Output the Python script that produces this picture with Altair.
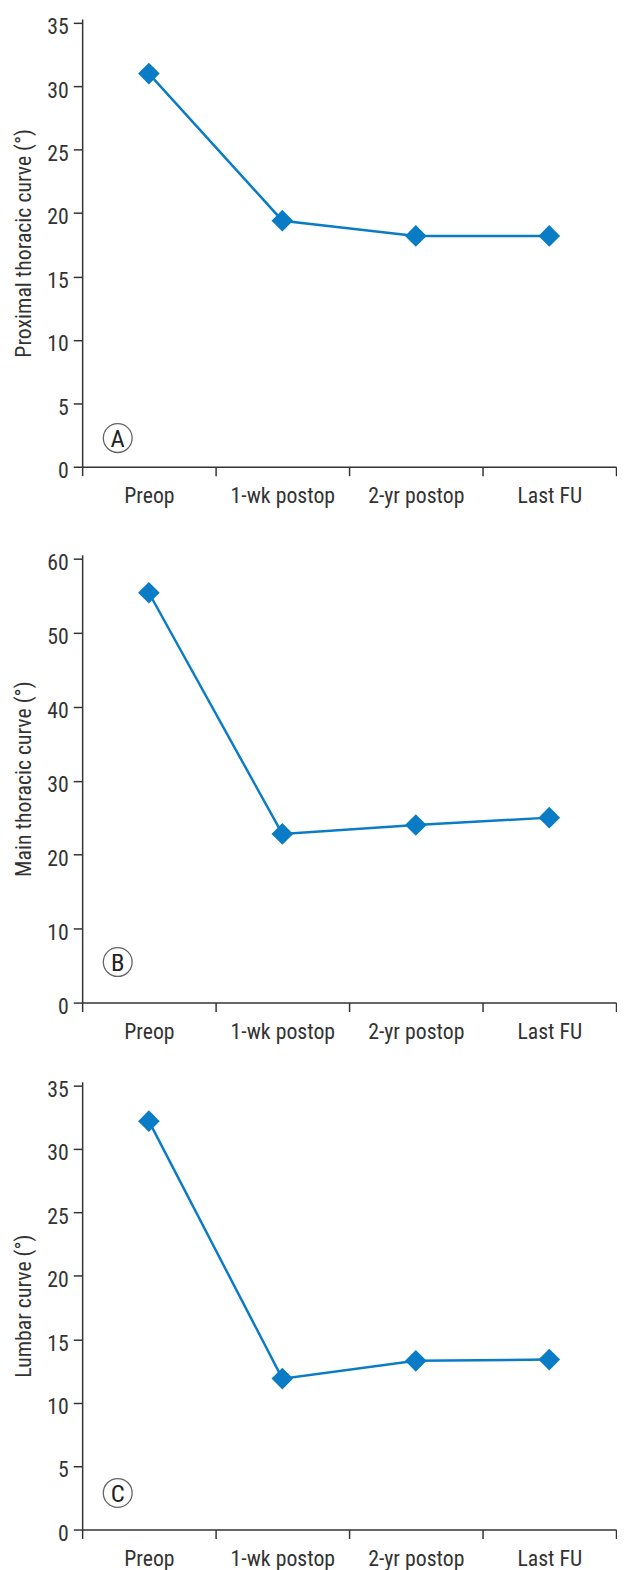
import altair as alt
import pandas as pd

categories = ["Preop", "1-wk postop", "2-yr postop", "Last FU"]
proximal_thoracic = [31.0, 19.4, 18.2, 18.2]
main_thoracic = [55.4, 22.8, 24.0, 25.0]
lumbar = [32.2, 11.9, 13.3, 13.4]

panels = [
    ("A", "Proximal thoracic curve (°)", proximal_thoracic, 35, 5, 453, 29),
    ("B", "Main thoracic curve (°)", main_thoracic, 60, 10, 453, 41),
    ("C", "Lumbar curve (°)", lumbar, 35, 5, 453, 37),
]

BLUE = "#0a7cc6"
FONT = "Roboto Condensed, Liberation Sans Narrow, DejaVu Sans Condensed, sans-serif"
TOP_GAP = 4  # axis line runs a few pixels above the top tick


def panel(letter, title, values, ymax, step, h, letter_offset):
    df = pd.DataFrame({"stage": categories, "value": values})
    x = alt.X(
        "stage:N",
        sort=categories,
        scale=alt.Scale(type="band", paddingInner=0, paddingOuter=0),
        axis=alt.Axis(title=None, labelAngle=0, tickBand="extent", tickSize=9,
                      labelPadding=10),
    )
    top = ymax * h / (h - TOP_GAP)
    y = alt.Y(
        "value:Q",
        scale=alt.Scale(domain=[0, top], nice=False),
        axis=alt.Axis(title=title, values=list(range(0, ymax + 1, step)),
                      tickSize=9, labelPadding=5, labelOffset=4, titlePadding=12,
                      grid=False),
    )
    base = alt.Chart(df).encode(x=x, y=y)
    line = base.mark_line(color=BLUE, strokeWidth=2.5)
    pts = base.mark_point(shape="diamond", filled=True, color=BLUE, size=480, opacity=1)
    lab = pd.DataFrame({"letter": [letter]})
    circ = alt.Chart(lab).mark_point(shape="circle", filled=False, stroke="#222",
                                     strokeWidth=1.3, size=850).encode(
        x=alt.value(36), y=alt.value(h - letter_offset))
    txt = alt.Chart(lab).mark_text(fontSize=25, font=FONT, color="#222",
                                   baseline="middle", align="center").encode(
        x=alt.value(36), y=alt.value(h - letter_offset + 1), text="letter:N")
    return alt.layer(line, pts, circ, txt).properties(width=540, height=h)


pa, pb, pc = [panel(*p) for p in panels]
chart = alt.vconcat(
    pa, alt.vconcat(pb, pc, spacing=37), spacing=45
).configure_view(
    stroke=None
).configure_axis(
    domainColor="#333", tickColor="#333", labelColor="#333", titleColor="#333",
    labelFont=FONT, titleFont=FONT, labelFontSize=22, titleFontSize=22,
    labelFontWeight="normal", titleFontWeight="normal", domainWidth=1.5, tickWidth=1.5,
).properties(padding={"left": 4, "top": -1, "right": 0, "bottom": 0})

chart.save("out.html", embed_options={"renderer": "svg", "actions": False})
